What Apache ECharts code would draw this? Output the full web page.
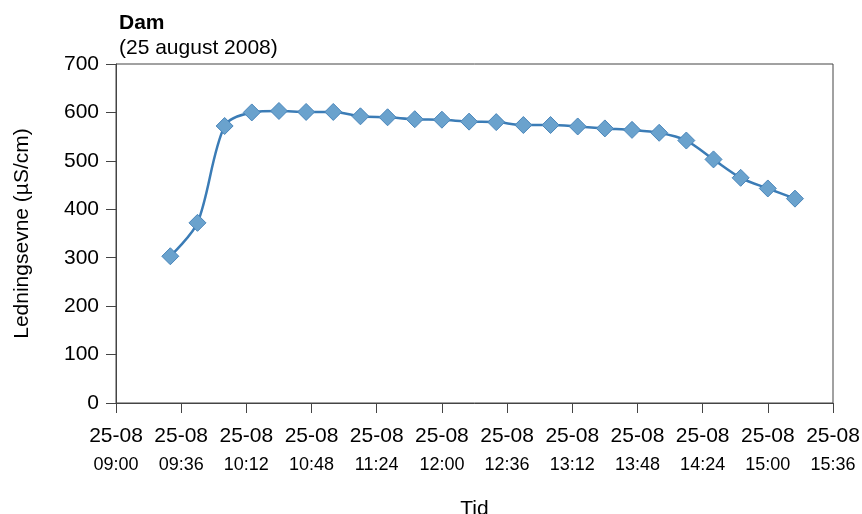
<!DOCTYPE html>
<html>
<head>
<meta charset="utf-8">
<script src="https://cdn.jsdelivr.net/npm/echarts@6/dist/echarts.min.js"></script>
<style>html,body{margin:0;padding:0;background:#fff}#c{width:862px;height:514px}</style>
</head>
<body>
<div id="c"></div>
<script>
const times = ["09:30","09:45","10:00","10:15","10:30","10:45","11:00","11:15","11:30","11:45","12:00","12:15","12:30","12:45","13:00","13:15","13:30","13:45","14:00","14:15","14:30","14:45","15:00","15:15"];
const values = [303,372,572,600,603,601,601,592,590,586,585,581,580,574,574,571,567,564,558,542,503,465,443,422];
const dateLabel = "25-08";
const yTicks = [0,100,200,300,400,500,600,700];

function toMin(t){const p=t.split(':');return (+p[0])*60+(+p[1]);}
function fmt(m){const h=Math.floor(m/60),mm=m%60;return String(h).padStart(2,'0')+':'+String(mm).padStart(2,'0');}

const data = times.map((t,i)=>[toMin(t),values[i]]);
const FONT = '"Liberation Sans", Arial, Helvetica, sans-serif';
const chart = echarts.init(document.getElementById('c'));
chart.setOption({
  animation:false,
  backgroundColor:'#fff',
  textStyle:{fontFamily:FONT},
  title:{
    text:'Dam', subtext:'(25 august 2008)',
    left:114, top:8, itemGap:4,
    textStyle:{fontFamily:FONT,fontSize:21,fontWeight:'bold',color:'#000'},
    subtextStyle:{fontFamily:FONT,fontSize:21,color:'#000'}
  },
  grid:{left:116,right:29,top:64,bottom:111,show:true,borderColor:'#444',borderWidth:1,backgroundColor:'transparent',outerBoundsMode:'none',containLabel:false},
  xAxis:{
    type:'value', min:540, max:936, interval:36,
    name:'Tid', nameLocation:'middle', nameGap:96,
    nameTextStyle:{fontFamily:FONT,fontSize:21,color:'#000'},
    axisLine:{show:true,lineStyle:{color:'#444',width:1}},
    axisTick:{show:true,length:10,lineStyle:{color:'#444'}},
    splitLine:{show:false},
    axisLabel:{
      margin:19,
      formatter:function(v){return '{a|'+dateLabel+'}\n{b|'+fmt(v)+'}';},
      rich:{
        a:{fontFamily:FONT,fontSize:21,color:'#000',lineHeight:29},
        b:{fontFamily:FONT,fontSize:18,color:'#000',lineHeight:29}
      }
    }
  },
  yAxis:{
    type:'value', min:yTicks[0], max:yTicks[yTicks.length-1], interval:100,
    name:'Ledningsevne (µS/cm)', nameLocation:'middle', nameGap:83,
    nameTextStyle:{fontFamily:FONT,fontSize:21,color:'#000'},
    axisLine:{show:true,lineStyle:{color:'#444',width:1}},
    axisTick:{show:true,length:10,lineStyle:{color:'#444'}},
    splitLine:{show:false},
    axisLabel:{margin:17,fontFamily:FONT,fontSize:21,color:'#000'}
  },
  series:[{
    type:'line', data:data, smooth:0.3,
    symbol:'diamond', symbolSize:17,
    lineStyle:{color:'#3b7cb6',width:2.5},
    itemStyle:{color:'#6aa2cd',borderColor:'#4a86bb',borderWidth:1}
  }]
});
</script>
</body>
</html>
